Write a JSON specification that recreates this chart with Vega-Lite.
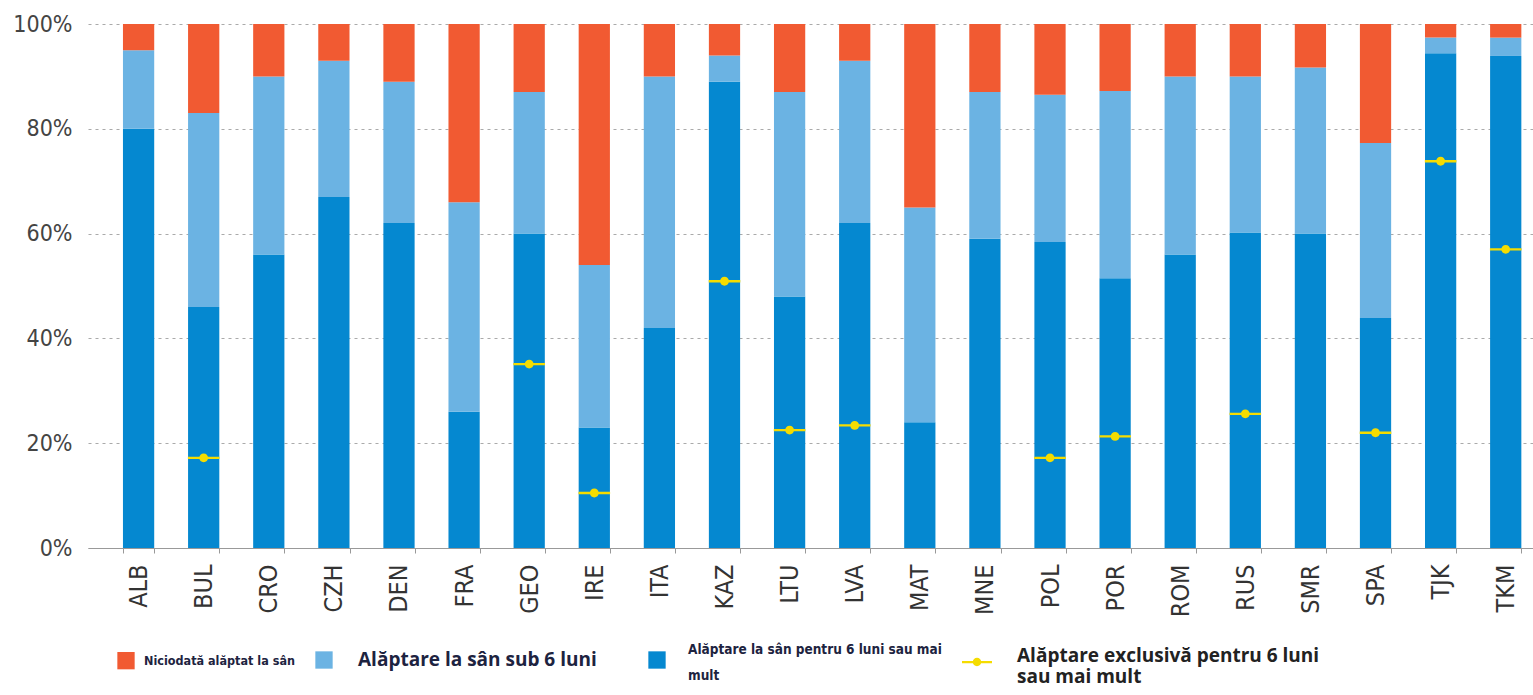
{
  "$schema": "https://vega.github.io/schema/vega-lite/v6.json",
  "width": 1445,
  "height": 524,
  "autosize": {"type": "none"},
  "padding": {"left": 88, "top": 24, "right": 0, "bottom": 147},
  "background": "white",
  "config": {
    "view": {"stroke": null},
    "axis": {"labelFont": "DejaVu Sans Condensed, Liberation Sans Narrow, Roboto, sans-serif", "labelColor": "#444"}
  },
  "datasets": {
    "bars": [
      {"c": "ALB", "g": "Alăptare la sân pentru 6 luni sau mai mult", "o": 1, "v": 80},
      {"c": "ALB", "g": "Alăptare la sân sub 6 luni", "o": 2, "v": 15},
      {"c": "ALB", "g": "Niciodată alăptat la sân", "o": 3, "v": 5},
      {"c": "BUL", "g": "Alăptare la sân pentru 6 luni sau mai mult", "o": 1, "v": 46},
      {"c": "BUL", "g": "Alăptare la sân sub 6 luni", "o": 2, "v": 37},
      {"c": "BUL", "g": "Niciodată alăptat la sân", "o": 3, "v": 17},
      {"c": "CRO", "g": "Alăptare la sân pentru 6 luni sau mai mult", "o": 1, "v": 56},
      {"c": "CRO", "g": "Alăptare la sân sub 6 luni", "o": 2, "v": 34},
      {"c": "CRO", "g": "Niciodată alăptat la sân", "o": 3, "v": 10},
      {"c": "CZH", "g": "Alăptare la sân pentru 6 luni sau mai mult", "o": 1, "v": 67},
      {"c": "CZH", "g": "Alăptare la sân sub 6 luni", "o": 2, "v": 26},
      {"c": "CZH", "g": "Niciodată alăptat la sân", "o": 3, "v": 7},
      {"c": "DEN", "g": "Alăptare la sân pentru 6 luni sau mai mult", "o": 1, "v": 62},
      {"c": "DEN", "g": "Alăptare la sân sub 6 luni", "o": 2, "v": 27},
      {"c": "DEN", "g": "Niciodată alăptat la sân", "o": 3, "v": 11},
      {"c": "FRA", "g": "Alăptare la sân pentru 6 luni sau mai mult", "o": 1, "v": 26},
      {"c": "FRA", "g": "Alăptare la sân sub 6 luni", "o": 2, "v": 40},
      {"c": "FRA", "g": "Niciodată alăptat la sân", "o": 3, "v": 34},
      {"c": "GEO", "g": "Alăptare la sân pentru 6 luni sau mai mult", "o": 1, "v": 60},
      {"c": "GEO", "g": "Alăptare la sân sub 6 luni", "o": 2, "v": 27},
      {"c": "GEO", "g": "Niciodată alăptat la sân", "o": 3, "v": 13},
      {"c": "IRE", "g": "Alăptare la sân pentru 6 luni sau mai mult", "o": 1, "v": 23},
      {"c": "IRE", "g": "Alăptare la sân sub 6 luni", "o": 2, "v": 31},
      {"c": "IRE", "g": "Niciodată alăptat la sân", "o": 3, "v": 46},
      {"c": "ITA", "g": "Alăptare la sân pentru 6 luni sau mai mult", "o": 1, "v": 42},
      {"c": "ITA", "g": "Alăptare la sân sub 6 luni", "o": 2, "v": 48},
      {"c": "ITA", "g": "Niciodată alăptat la sân", "o": 3, "v": 10},
      {"c": "KAZ", "g": "Alăptare la sân pentru 6 luni sau mai mult", "o": 1, "v": 89},
      {"c": "KAZ", "g": "Alăptare la sân sub 6 luni", "o": 2, "v": 5},
      {"c": "KAZ", "g": "Niciodată alăptat la sân", "o": 3, "v": 6},
      {"c": "LTU", "g": "Alăptare la sân pentru 6 luni sau mai mult", "o": 1, "v": 48},
      {"c": "LTU", "g": "Alăptare la sân sub 6 luni", "o": 2, "v": 39},
      {"c": "LTU", "g": "Niciodată alăptat la sân", "o": 3, "v": 13},
      {"c": "LVA", "g": "Alăptare la sân pentru 6 luni sau mai mult", "o": 1, "v": 62},
      {"c": "LVA", "g": "Alăptare la sân sub 6 luni", "o": 2, "v": 31},
      {"c": "LVA", "g": "Niciodată alăptat la sân", "o": 3, "v": 7},
      {"c": "MAT", "g": "Alăptare la sân pentru 6 luni sau mai mult", "o": 1, "v": 24},
      {"c": "MAT", "g": "Alăptare la sân sub 6 luni", "o": 2, "v": 41},
      {"c": "MAT", "g": "Niciodată alăptat la sân", "o": 3, "v": 35},
      {"c": "MNE", "g": "Alăptare la sân pentru 6 luni sau mai mult", "o": 1, "v": 59},
      {"c": "MNE", "g": "Alăptare la sân sub 6 luni", "o": 2, "v": 28},
      {"c": "MNE", "g": "Niciodată alăptat la sân", "o": 3, "v": 13},
      {"c": "POL", "g": "Alăptare la sân pentru 6 luni sau mai mult", "o": 1, "v": 58.4},
      {"c": "POL", "g": "Alăptare la sân sub 6 luni", "o": 2, "v": 28.1},
      {"c": "POL", "g": "Niciodată alăptat la sân", "o": 3, "v": 13.5},
      {"c": "POR", "g": "Alăptare la sân pentru 6 luni sau mai mult", "o": 1, "v": 51.5},
      {"c": "POR", "g": "Alăptare la sân sub 6 luni", "o": 2, "v": 35.7},
      {"c": "POR", "g": "Niciodată alăptat la sân", "o": 3, "v": 12.8},
      {"c": "ROM", "g": "Alăptare la sân pentru 6 luni sau mai mult", "o": 1, "v": 56},
      {"c": "ROM", "g": "Alăptare la sân sub 6 luni", "o": 2, "v": 34},
      {"c": "ROM", "g": "Niciodată alăptat la sân", "o": 3, "v": 10},
      {"c": "RUS", "g": "Alăptare la sân pentru 6 luni sau mai mult", "o": 1, "v": 60.2},
      {"c": "RUS", "g": "Alăptare la sân sub 6 luni", "o": 2, "v": 29.8},
      {"c": "RUS", "g": "Niciodată alăptat la sân", "o": 3, "v": 10},
      {"c": "SMR", "g": "Alăptare la sân pentru 6 luni sau mai mult", "o": 1, "v": 60},
      {"c": "SMR", "g": "Alăptare la sân sub 6 luni", "o": 2, "v": 31.7},
      {"c": "SMR", "g": "Niciodată alăptat la sân", "o": 3, "v": 8.3},
      {"c": "SPA", "g": "Alăptare la sân pentru 6 luni sau mai mult", "o": 1, "v": 43.9},
      {"c": "SPA", "g": "Alăptare la sân sub 6 luni", "o": 2, "v": 33.4},
      {"c": "SPA", "g": "Niciodată alăptat la sân", "o": 3, "v": 22.7},
      {"c": "TJK", "g": "Alăptare la sân pentru 6 luni sau mai mult", "o": 1, "v": 94.4},
      {"c": "TJK", "g": "Alăptare la sân sub 6 luni", "o": 2, "v": 3},
      {"c": "TJK", "g": "Niciodată alăptat la sân", "o": 3, "v": 2.6},
      {"c": "TKM", "g": "Alăptare la sân pentru 6 luni sau mai mult", "o": 1, "v": 93.9},
      {"c": "TKM", "g": "Alăptare la sân sub 6 luni", "o": 2, "v": 3.5},
      {"c": "TKM", "g": "Niciodată alăptat la sân", "o": 3, "v": 2.6}
    ],
    "excl": [
      {"c": "BUL", "e": 17.2, "s": "Alăptare exclusivă pentru 6 luni sau mai mult"},
      {"c": "GEO", "e": 35.1, "s": "Alăptare exclusivă pentru 6 luni sau mai mult"},
      {"c": "IRE", "e": 10.5, "s": "Alăptare exclusivă pentru 6 luni sau mai mult"},
      {"c": "KAZ", "e": 50.9, "s": "Alăptare exclusivă pentru 6 luni sau mai mult"},
      {"c": "LTU", "e": 22.5, "s": "Alăptare exclusivă pentru 6 luni sau mai mult"},
      {"c": "LVA", "e": 23.4, "s": "Alăptare exclusivă pentru 6 luni sau mai mult"},
      {"c": "POL", "e": 17.2, "s": "Alăptare exclusivă pentru 6 luni sau mai mult"},
      {"c": "POR", "e": 21.3, "s": "Alăptare exclusivă pentru 6 luni sau mai mult"},
      {"c": "RUS", "e": 25.6, "s": "Alăptare exclusivă pentru 6 luni sau mai mult"},
      {"c": "SPA", "e": 22, "s": "Alăptare exclusivă pentru 6 luni sau mai mult"},
      {"c": "TJK", "e": 73.8, "s": "Alăptare exclusivă pentru 6 luni sau mai mult"},
      {"c": "TKM", "e": 57, "s": "Alăptare exclusivă pentru 6 luni sau mai mult"}
    ]
  },
  "encoding": {
    "x": {
      "field": "c", "type": "nominal", "sort": null, "title": null,
      "scale": {
        "domain": ["ALB","BUL","CRO","CZH","DEN","FRA","GEO","IRE","ITA","KAZ","LTU","LVA","MAT","MNE","POL","POR","ROM","RUS","SMR","SPA","TJK","TKM"],
        "paddingInner": 0.52, "paddingOuter": 0.358, "align": 0.75
      },
      "axis": {
        "labelAngle": -90, "labelFontSize": 25, "labelPadding": 11,
        "tickBand": "extent", "tickSize": 5, "tickColor": "#999",
        "domainColor": "#999", "labelColor": "#333"
      }
    }
  },
  "layer": [
    {
      "data": {"name": "bars"},
      "mark": {"type": "bar", "strokeWidth": 0},
      "encoding": {
        "y": {
          "field": "v", "type": "quantitative", "stack": "zero", "title": null,
          "scale": {"domain": [0, 100], "nice": false},
          "axis": {
            "values": [0, 20, 40, 60, 80, 100],
            "labelExpr": "datum.value + '%'",
            "labelFontSize": 23, "labelPadding": 16,
            "domain": false, "ticks": false,
            "gridDash": [3, 4], "gridColor": "#aaa", "gridWidth": 1.2
          }
        },
        "order": {"field": "o", "type": "quantitative"},
        "fill": {
          "field": "g", "type": "nominal",
          "scale": {
            "domain": ["Niciodată alăptat la sân", "Alăptare la sân sub 6 luni", "Alăptare la sân pentru 6 luni sau mai mult"],
            "range": ["#f15a32", "#6bb3e3", "#0588d0"]
          },
          "legend": {
            "values": ["Niciodată alăptat la sân", "Alăptare la sân sub 6 luni"],
            "orient": "none", "legendX": 29, "legendY": 627, "direction": "horizontal",
            "title": null, "padding": 0, "symbolType": "square", "symbolSize": 300,
            "symbolStrokeWidth": 0, "symbolOpacity": 1, "columnPadding": 20, "labelOffset": 9,
            "labelLimit": 400, "labelColor": "#1d2340",
            "encode": {
              "labels": {
                "update": {
                  "font": {"signal": "datum.index == 1 ? 'Open Sans' : 'DejaVu Sans Condensed, Liberation Sans Narrow, Roboto, sans-serif'"},
                  "fontSize": {"signal": "datum.index == 1 ? 19 : 12.5"},
                  "fontWeight": {"value": "bold"},
                  "dx": {"signal": "datum.index == 1 ? 16 : 0"}
                }
              }
            }
          }
        },
        "stroke": {
          "field": "o", "type": "nominal",
          "scale": {"domain": [3, 2, 1], "range": ["#f15a32", "#6bb3e3", "#0588d0"]},
          "legend": {
            "values": [1],
            "orient": "none", "legendX": 560, "legendY": 627,
            "title": null, "padding": 0, "symbolType": "square", "symbolSize": 300,
            "symbolFillColor": "#0588d0", "symbolStrokeWidth": 0, "symbolOpacity": 1, "labelOffset": 22,
            "labelLimit": 400, "labelColor": "#1d2340",
            "labelFont": "DejaVu Sans Condensed, Liberation Sans Narrow, Roboto, sans-serif",
            "labelFontSize": 13.5, "labelFontWeight": "bold", "labelBaseline": "alphabetic",
            "labelExpr": "['Alăptare la sân pentru 6 luni sau mai', 'mult']",
            "encode": {
              "symbols": {"update": {"fill": {"value": "#0588d0"}, "fillOpacity": {"value": 1}}},
              "labels": {"update": {"dy": {"value": -6}, "lineHeight": {"value": 26}}}
            }
          }
        }
      }
    },
    {
      "data": {"name": "excl"},
      "mark": {"type": "point", "filled": true, "opacity": 1, "strokeWidth": 0, "fill": "#f5dc00", "fillOpacity": 1},
      "encoding": {
        "y": {"field": "e", "type": "quantitative"},
        "size": {"value": 1000},
        "shape": {
          "field": "s", "type": "nominal",
          "scale": {"range": ["M-1,-0.075H1V0.075H-1Z M0,-0.28A0.28,0.28 0 1,1 0,0.28A0.28,0.28 0 1,1 0,-0.28Z"]},
          "legend": {
            "orient": "none", "legendX": 874, "legendY": 623, "title": null, "padding": 0,
            "symbolSize": 900, "symbolFillColor": "#f5dc00", "symbolStrokeWidth": 0,
            "symbolOpacity": 1, "labelOffset": 25, "labelLimit": 450,
            "labelFont": "Open Sans", "labelFontSize": 19, "labelFontWeight": "bold", "labelColor": "#222",
            "labelBaseline": "alphabetic",
            "labelExpr": "['Alăptare exclusivă pentru 6 luni', 'sau mai mult']",
            "encode": {
              "symbols": {"update": {"fill": {"value": "#f5dc00"}, "fillOpacity": {"value": 1}, "opacity": {"value": 1}}},
              "labels": {"update": {"dy": {"value": 5}, "lineHeight": {"value": 26}}}
            }
          }
        }
      }
    }
  ]
}
